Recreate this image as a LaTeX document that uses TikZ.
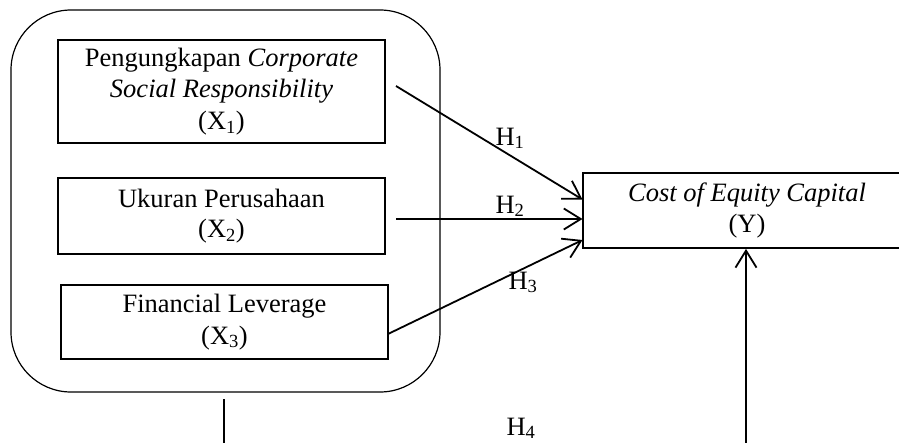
\documentclass[tikz,border=0pt]{standalone}
\usepackage{fontspec}
\setmainfont{Liberation Serif}
\usetikzlibrary{arrows.meta,calc}
\begin{document}
\begin{tikzpicture}[x=1pt,y=-1pt,
  varbox/.style={draw,line width=1.8pt,align=center,inner sep=0pt,
    font=\fontsize{26.5}{31.5}\selectfont},
  conn/.style={line width=1.8pt},
  arr/.style={conn,-{Straight Barb[length=17pt,width=21pt,line width=1.8pt]}},
  hlab/.style={anchor=base,inner sep=0pt,font=\fontsize{26.5}{31.5}\selectfont},
  grp/.style={draw,line width=1.2pt,rounded corners=60pt}]
\useasboundingbox (0,0) rectangle (899,442);
\clip (0,0) rectangle (899,442);
\draw[grp] (11,10) rectangle (440,392);
\node[varbox,minimum width=327pt,minimum height=103pt] (b1) at (221.5,91.5)
  {Pengungkapan \textit{Corporate}\\ \textit{Social Responsibility}\\ (X\textsubscript{1})};
\node[varbox,minimum width=327pt,minimum height=76pt] (b2) at (221.5,216)
  {Ukuran Perusahaan\\[-1pt] (X\textsubscript{2})};
\node[varbox,minimum width=327pt,minimum height=74pt] (b3) at (224.5,322)
  {Financial Leverage\\ (X\textsubscript{3})};
\node[varbox,minimum width=328pt,minimum height=75pt] (y) at (747,210.5)
  {\textit{Cost of Equity Capital}\\ (Y)};
\coordinate (s1) at (396,86);
\coordinate (s2) at (396,219);
\coordinate (s3) at (388,334);
\coordinate (e1) at (582.5,199.5);
\coordinate (e2) at (582.5,219);
\coordinate (e3) at (582.5,240);
\coordinate (lb) at (224,399);
\coordinate (lbe) at (224,470);
\coordinate (rb) at (746,470);
\draw[arr] (s1) -- (e1);
\draw[arr] (s2) -- (e2);
\draw[arr] (s3) -- (e3);
\draw[conn] (lb) -- (lbe);
\draw[arr] (rb) -- (y.south -| rb);
\node[hlab] (h1) at (510,145) {H\textsubscript{1}};
\node[hlab] (h2) at (510,213) {H\textsubscript{2}};
\node[hlab] (h3) at (523,289) {H\textsubscript{3}};
\node[hlab] (h4) at (521,435) {H\textsubscript{4}};
\end{tikzpicture}
\end{document}
